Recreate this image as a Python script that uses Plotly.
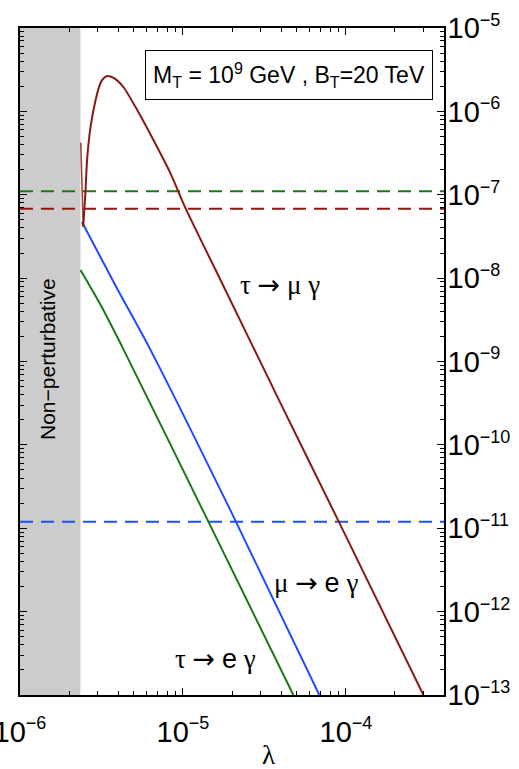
import numpy as np
import plotly.graph_objects as go

# ---- data ----
lam_tau_mu = [2.36e-6, 2.443e-6, 2.52e-6, 2.58e-6, 2.71e-6, 2.91e-6, 3.12e-6, 3.25e-6,
              3.43e-6, 3.59e-6, 3.86e-6, 4.31e-6, 5.24e-6, 6.59e-6, 8.37e-6, 1.035e-5,
              1.70e-5, 3.96e-5, 9.12e-5, 2.99e-4]
br_tau_mu = [4.2e-7, 4.15e-8, 1.05e-7, 2.6e-7, 6.5e-7, 1.37e-6, 2.19e-6, 2.48e-6,
             2.65e-6, 2.62e-6, 2.44e-6, 1.96e-6, 1.04e-6, 4.54e-7, 1.82e-7, 6.95e-8,
             9.5e-9, 3.19e-10, 1.16e-11, 1.0e-13]

lam_mu_e = [2.40e-6, 3.89e-6, 6.32e-6, 1.95e-5, 6.87e-5]
br_mu_e = [4.7e-8, 7.9e-9, 1.38e-9, 1.66e-11, 1.0e-13]

lam_tau_e = [2.35e-6, 3.12e-6, 4.33e-6, 1.32e-5, 4.76e-5]
br_tau_e = [1.25e-8, 4.78e-9, 1.38e-9, 1.66e-11, 1.0e-13]

bound_tau_e = 1.1e-7
bound_tau_mu = 6.8e-8
bound_mu_e = 1.2e-11

nonpert_lo, nonpert_hi = 1e-6, 2.35e-6
x_range = [1e-6, 4.0e-4]
y_range = [1e-13, 1e-5]

x_tick_vals = [1e-6, 1e-5, 1e-4]
x_tick_exps = ["−6", "−5", "−4"]
y_tick_vals = [1e-13, 1e-12, 1e-11, 1e-10, 1e-9, 1e-8, 1e-7, 1e-6, 1e-5]
y_tick_exps = ["−13", "−12", "−11", "−10", "−9", "−8", "−7", "−6", "−5"]

RED = "#8a1a10"
BLUE = "#1f4cff"
GREEN = "#177a17"

def power_label(e):
    return '10<sup><span style="font-size:18px">' + e + '</span></sup>'

def minor_vals(lo_exp, hi_exp):
    return [m * 10.0 ** e for e in range(lo_exp, hi_exp) for m in range(2, 10)]

fig = go.Figure()

fig.add_shape(type="rect", xref="x", yref="paper", x0=nonpert_lo, x1=nonpert_hi,
              y0=0, y1=1, fillcolor="#cccccc", line_width=0, layer="below")

for b, c in [(bound_tau_e, GREEN), (bound_tau_mu, RED), (bound_mu_e, BLUE)]:
    fig.add_trace(go.Scatter(x=x_range, y=[b, b], mode="lines",
                             line=dict(color=c, width=2, dash="13px,8px"),
                             showlegend=False, hoverinfo="skip"))

fig.add_trace(go.Scatter(x=lam_tau_e, y=br_tau_e, mode="lines",
                         line=dict(color=GREEN, width=2, shape="spline", smoothing=0.8),
                         showlegend=False))
fig.add_trace(go.Scatter(x=lam_mu_e, y=br_mu_e, mode="lines",
                         line=dict(color=BLUE, width=2, shape="spline", smoothing=0.8),
                         showlegend=False))
# narrow spike at the edge of the non-perturbative region (straight), then smooth curve
fig.add_trace(go.Scatter(x=lam_tau_mu[:2], y=br_tau_mu[:2], mode="lines",
                         line=dict(color=RED, width=1.6), opacity=0.8, showlegend=False))
fig.add_trace(go.Scatter(x=lam_tau_mu[1:], y=br_tau_mu[1:], mode="lines",
                         line=dict(color=RED, width=2, shape="spline", smoothing=0.7),
                         showlegend=False))

axis_common = dict(showline=True, linecolor="black", linewidth=1.5, mirror="allticks",
                   ticks="inside", ticklen=7, tickwidth=1, tickcolor="black",
                   showgrid=False, zeroline=False, automargin=False,
                   ticklabeloverflow="allow",
                   tickfont=dict(family="Liberation Sans", size=29, color="black"))

fig.update_xaxes(type="log", range=[np.log10(x_range[0]), np.log10(x_range[1])],
                 tickmode="array", tickvals=x_tick_vals,
                 ticktext=[power_label(e) for e in x_tick_exps],
                 ticklabelstandoff=10,
                 minor=dict(tickmode="array", tickvals=minor_vals(-6, -3), ticks="inside",
                            ticklen=4, tickcolor="black", showgrid=False),
                 **axis_common)
fig.update_yaxes(type="log", range=[np.log10(y_range[0]), np.log10(y_range[1])],
                 side="right",
                 tickmode="array", tickvals=y_tick_vals,
                 ticktext=[power_label(e) for e in y_tick_exps],
                 ticklabelstandoff=-4,
                 minor=dict(tickmode="array", tickvals=minor_vals(-13, -5), ticks="inside",
                            ticklen=4, tickcolor="black", showgrid=False),
                 **axis_common)

W, H = 519, 769
PL, PT, PW, PH = 20, 28, 424, 667   # plot area in window pixels
L, T = PL, PT
R, B = W - L - PW, H - T - PH

def px2paper(px, py):
    return (px - PL) / PW, (PT + PH - py) / PH

def ann(text, px, py, size=27, family="Liberation Serif", **kw):
    xp, yp = px2paper(px, py)
    fig.add_annotation(text=text, x=xp, y=yp, xref="paper", yref="paper",
                       showarrow=False, font=dict(family=family, size=size, color="black"),
                       xanchor="center", yanchor="middle", **kw)

SANS = '<span style="font-family:Liberation Sans">'
ARR = '<span style="font-family:DejaVu Sans">→</span>'
ann("τ " + ARR + " μ γ", 280, 284)
ann("μ " + ARR + " " + SANS + "e</span> γ", 316, 582)
ann("τ " + ARR + " " + SANS + "e</span> γ", 215, 658)
ann("λ", 268, 755)
ann("Non−perturbative", 47, 359, size=21, family="Liberation Sans", textangle=-90)
ann("M<sub>T</sub> = 10<sup>9</sup> GeV , B<sub>T</sub>=20 TeV", 289, 75, size=23,
    family="Liberation Sans", bordercolor="black", borderwidth=1, borderpad=4,
    bgcolor="white", width=278, height=40)

fig.update_layout(width=W, height=H, margin=dict(l=L, r=R, t=T, b=B, autoexpand=False),
                  paper_bgcolor="white", plot_bgcolor="white")

fig.write_html("out.html", config={"displayModeBar": False},
               post_script="document.body.style.margin='0';document.body.style.overflow='hidden';")
